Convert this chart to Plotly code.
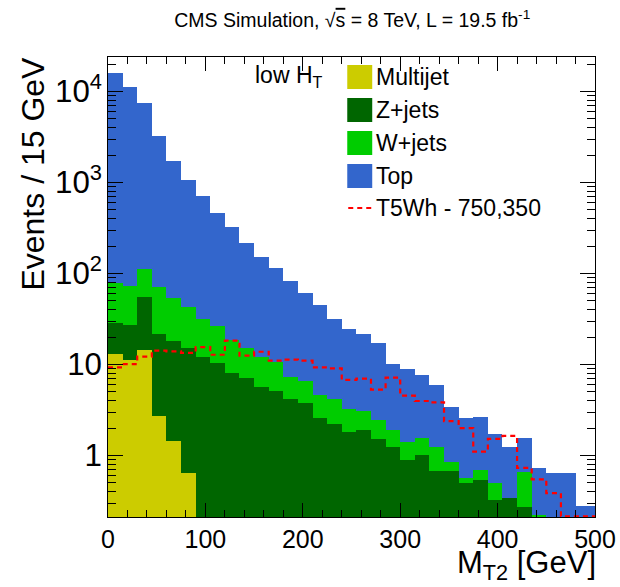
import plotly.graph_objects as go

# ---------------- data ----------------
bin_width = 15  # GeV
bin_low_edges = [0, 15, 30, 45, 60, 75, 90, 105, 120, 135, 150, 165, 180, 195, 210, 225,
                 240, 255, 270, 285, 300, 315, 330, 345, 360, 375, 390, 405, 420, 435,
                 450, 465, 480, 495]

multijet = [13.2, 11.2, 14.6, 2.72, 1.44, 0.65, 0.01, 0.01, 0.01, 0.01, 0.01, 0.01,
            0.01, 0.01, 0.01, 0.01, 0.01, 0.01, 0.01, 0.01, 0.01, 0.01, 0.01, 0.01,
            0.01, 0.01, 0.01, 0.01, 0.01, 0.01, 0.01, 0.01, 0.01, 0.01]
zjets = [15.5, 16.0, 39.9, 18.8, 16.8, 14.6, 12.2, 10.3, 8.1, 7.15, 5.6, 5.15,
         4.15, 3.75, 2.56, 2.2, 1.81, 1.91, 1.51, 1.22, 0.89, 1.0, 0.67, 0.67,
         0.49, 0.525, 0.316, 0.335, 0.265, 0.15, 0.12, 0.12, 0.1, 0.1]
wjets = [50.3, 45.7, 57.5, 49.5, 36.0, 27.2, 19.4, 16.2, 10.5, 7.94, 6.4, 5.55,
         3.19, 2.84, 2.06, 1.95, 1.43, 1.17, 0.93, 0.69, 0.51, 0.55, 0.55, 0.16,
         0.07, 0.165, 0.17, 0.0, 0.385, 0.06, 0.02, 0.02, 0.02, 0.02]
top = [15720, 11227, 7418, 3199, 1686, 1022, 679, 440, 308, 200, 141, 103,
       76, 54, 40.2, 27.8, 21.2, 18.7, 14.7, 8.1, 7.46, 6.12, 4.71, 2.61,
       2.02, 1.94, 1.23, 0.885, 0.90, 0.50, 0.50, 0.50, 0.147, 0.147]
t5wh = [9.3, 10.1, 12.2, 14.2, 13.9, 13.4, 15.5, 12.8, 18.3, 12.5, 13.8, 11.0,
        11.3, 11.0, 9.3, 9.08, 6.76, 6.98, 5.29, 7.16, 4.54, 3.97, 3.84, 2.38,
        2.0, 1.10, 1.52, 1.64, 0.73, 0.547, 0.385, 0.215, 0.215, 0.215]

process_names = ["Multijet", "Z+jets", "W+jets", "Top"]
signal_name = "T5Wh - 750,350"
x_ticks = [0, 100, 200, 300, 400, 500]

# ---------------- style ----------------
colors = {"Multijet": "#cccc00", "Z+jets": "#006600", "W+jets": "#00cc00", "Top": "#3366cc"}
FONT = "Liberation Sans, Arial, Helvetica, sans-serif"
W, H = 620, 587
L, R, T, B = 107.5, 25, 57, 70
PW, PH = W - L - R, H - T - B


def px(xp):
    return (xp - L) / PW


def py(yp):
    return (H - B - yp) / PH


centers = [e + bin_width / 2 for e in bin_low_edges]
series = [multijet, zjets, wjets, top]

fig = go.Figure()
for name, vals in zip(process_names, series):
    fig.add_trace(go.Bar(x=centers, y=vals, width=bin_width, name=name,
                         marker=dict(color=colors[name], line=dict(width=0)),
                         showlegend=False))

step_x = bin_low_edges + [bin_low_edges[-1] + bin_width]
step_y = t5wh + [t5wh[-1]]
fig.add_trace(go.Scatter(x=step_x, y=step_y, mode="lines", line_shape="hv",
                         line=dict(color="#ff0000", width=2.2, dash="5px,4px"),
                         name=signal_name, showlegend=False))

fig.update_layout(
    width=W, height=H,
    margin=dict(l=L, r=R, t=T, b=B, pad=0, autoexpand=False),
    barmode="stack", bargap=0,
    showlegend=False,
    paper_bgcolor="white", plot_bgcolor="white",
    font=dict(family=FONT, color="black"),
    title=dict(text="CMS Simulation, √<span style='text-decoration:overline'>s</span> = 8 TeV, L = 19.5 fb<sup>-1</sup>",
               xref="paper", x=px(352), xanchor="center",
               yref="container", y=1 - 20 / H, yanchor="middle",
               font=dict(size=19.5, family=FONT, color="black")),
)

fig.update_xaxes(range=[0, 500], tickvals=x_ticks, ticks="inside", ticklen=14, tickwidth=1,
                 tickcolor="black", showline=True, linecolor="black", linewidth=1,
                 mirror="allticks", showgrid=False, zeroline=False, automargin=False,
                 tickfont=dict(size=25, family=FONT, color="black"),
                 minor=dict(ticks="inside", ticklen=7, dtick=20, tickcolor="black", showgrid=False))
fig.update_yaxes(type="log", range=[-0.676, 4.379], dtick=1, ticks="inside", ticklen=15,
                 tickwidth=1, tickcolor="black", showline=True, linecolor="black", linewidth=1,
                 mirror="allticks", showgrid=False, zeroline=False, exponentformat="power",
                 automargin=False,
                 tickfont=dict(size=25, family=FONT, color="black"),
                 minor=dict(ticks="inside", ticklen=8, dtick="D1", tickcolor="black", showgrid=False))

ann = []
# axis titles
ann.append(dict(text="Events / 15 GeV", x=px(32), y=py(55), xref="paper", yref="paper",
                xanchor="center", yanchor="top", textangle=-90, showarrow=False,
                font=dict(size=32, family=FONT, color="black")))
ann.append(dict(text="M<sub>T2</sub> [GeV]", x=px(598), y=py(543), xref="paper", yref="paper",
                xanchor="right", yanchor="top", showarrow=False,
                font=dict(size=31, family=FONT, color="black")))
# legend
ann.append(dict(text="low H<sub>T</sub>", x=px(253), y=py(77), xref="paper", yref="paper",
                xanchor="left", yanchor="middle", showarrow=False,
                font=dict(size=23, family=FONT, color="black")))
shapes = []
box_centers = [77, 110, 143, 176]
for name, yc in zip(process_names, box_centers):
    shapes.append(dict(type="rect", xref="paper", yref="paper",
                       x0=px(347), x1=px(372), y0=py(yc + 12), y1=py(yc - 12),
                       fillcolor=colors[name], line=dict(width=0)))
    ann.append(dict(text=name, x=px(374), y=py(yc), xref="paper", yref="paper",
                    xanchor="left", yanchor="middle", showarrow=False,
                    font=dict(size=23, family=FONT, color="black")))
shapes.append(dict(type="line", xref="paper", yref="paper", x0=px(348), x1=px(371),
                   y0=py(208), y1=py(208), line=dict(color="#ff0000", width=2.2, dash="5px,4px")))
ann.append(dict(text=signal_name, x=px(374), y=py(208), xref="paper", yref="paper",
                xanchor="left", yanchor="middle", showarrow=False,
                font=dict(size=23, family=FONT, color="black")))

fig.update_layout(annotations=ann, shapes=shapes)
fig.write_html("out.html")
